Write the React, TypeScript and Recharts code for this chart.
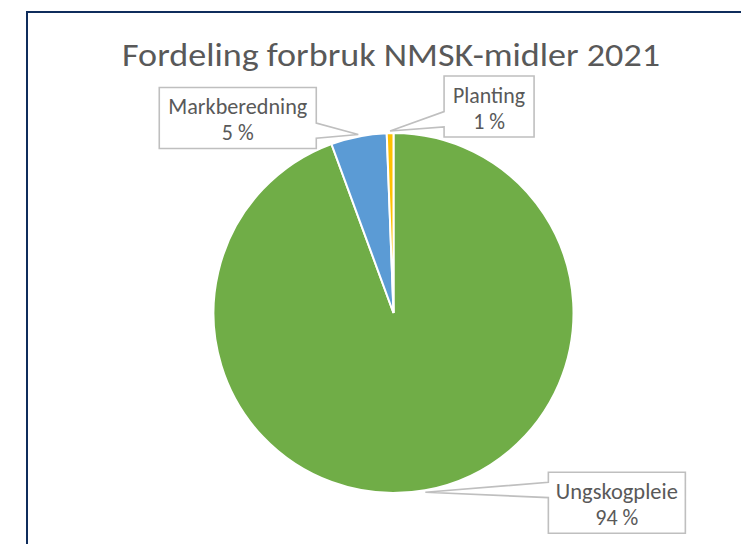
import React from 'react';
import { PieChart, Pie, Cell } from 'recharts';

const categories = ['Ungskogpleie', 'Markberedning', 'Planting'];
const shares = [94.4, 5.0, 0.6];
const colors = ['#70AD47', '#5B9BD5', '#FFC000'];
const title = 'Fordeling forbruk NMSK-midler 2021';

const data = categories.map((name, i) => ({ name, value: shares[i] }));

const FONT = 'Carlito, Calibri, Lato, sans-serif';
const TEXT = '#595959';

// callout box placement relative to the wedge tip (dx, dy), box width, name text width
const calloutLayout: Record<string, { dx: number; dy: number; w: number; tw: number }> = {
    Ungskogpleie: { dx: 123, dy: -20, w: 137, tw: 122 },
    Markberedning: { dx: -199, dy: -47, w: 157, tw: 139 },
    Planting: { dx: 54, dy: -55, w: 90, tw: 72 },
};

const renderCallout = (props: any) => {
    const { cx, cy, midAngle, outerRadius, name, percent } = props;
    const RAD = Math.PI / 180;
    const r = outerRadius + 2;
    const tx = cx + r * Math.cos(-midAngle * RAD);
    const ty = cy + r * Math.sin(-midAngle * RAD);
    const lay = calloutLayout[name];
    const h = 61;
    const left = tx + lay.dx;
    const top = ty + lay.dy;
    const right = left + lay.w;
    const bottom = top + h;
    const below = ty > top + h / 2;
    const f1 = below ? 7 / 12 : 2 / 12;
    const f2 = below ? 10 / 12 : 5 / 12;
    let d;
    if (tx > right) {
        d = `M${left},${top} H${right} V${top + h * f1} L${tx},${ty} L${right},${top + h * f2} V${bottom} H${left} Z`;
    } else {
        d = `M${left},${top} H${right} V${bottom} H${left} V${top + h * f2} L${tx},${ty} L${left},${top + h * f1} Z`;
    }
    const mid = (left + right) / 2;
    return (
        <g key={`callout-${name}`}>
            <path d={d} fill="#ffffff" stroke="#bfbfbf" strokeWidth={1.6} />
            <text x={mid} y={top + 27} textAnchor="middle" fill={TEXT} fontFamily={FONT} fontSize={22}
                textLength={lay.tw} lengthAdjust="spacingAndGlyphs">
                {name}
            </text>
            <text x={mid} y={top + 53} textAnchor="middle" fill={TEXT} fontFamily={FONT} fontSize={22}>
                {`${Math.round(percent * 100)} %`}
            </text>
        </g>
    );
};

export default function App() {
    return (
        <div style={{ position: 'absolute', left: 0, top: 0, width: 741, height: 544, overflow: 'hidden', background: '#fff' }}>
            <svg width={741} height={544} style={{ position: 'absolute', left: 0, top: 0 }}>
                <rect x={27} y={12} width={800} height={600} fill="#ffffff" stroke="#0f2d5c" strokeWidth={2} />
                <text x={391} y={66} textAnchor="middle" fill={TEXT} fontFamily={FONT} fontSize={32}
                    textLength={538} lengthAdjust="spacingAndGlyphs">
                    {title}
                </text>
            </svg>
            <div style={{ position: 'absolute', left: 0, top: 0 }}>
                <PieChart width={741} height={544} margin={{ top: 0, right: 0, bottom: 0, left: 0 }}>
                    <Pie
                        data={data}
                        dataKey="value"
                        nameKey="name"
                        cx={393.5}
                        cy={313}
                        outerRadius={180}
                        startAngle={90}
                        endAngle={-270}
                        stroke="#ffffff"
                        strokeWidth={2}
                        label={renderCallout}
                        labelLine={false}
                        isAnimationActive={false}
                    >
                        {data.map((entry, index) => (
                            <Cell key={`cell-${index}`} fill={colors[index]} />
                        ))}
                    </Pie>
                </PieChart>
            </div>
        </div>
    );
}
